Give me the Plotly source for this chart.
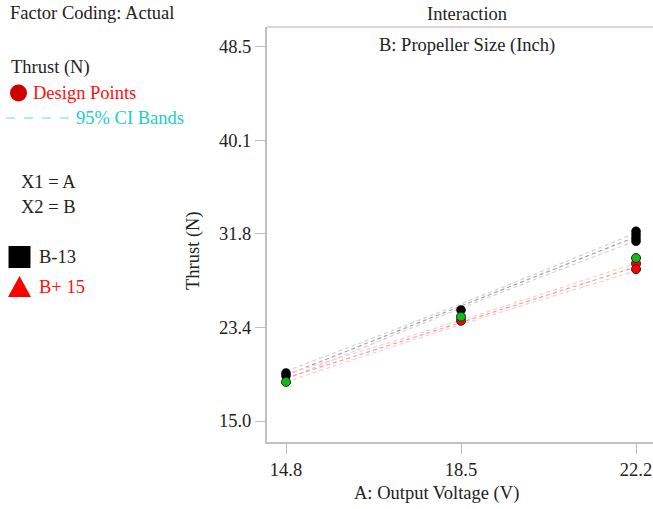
import plotly.graph_objects as go

# ---- data ----
voltage_levels = [14.8, 18.5, 22.2]
b_minus_mean = [19.1, 25.3, 31.5]
b_minus_lo = [18.75, 25.1, 31.15]
b_minus_hi = [19.45, 25.5, 31.85]
b_plus_mean = [18.85, 23.83, 28.8]
b_plus_lo = [18.5, 23.63, 28.45]
b_plus_hi = [19.2, 24.03, 29.15]

black_pts_x = [14.8, 14.8, 18.5, 22.2, 22.2, 22.2, 22.2]
black_pts_y = [19.3, 19.05, 24.94, 32.0, 31.7, 31.4, 31.1]
green_pts_x = [14.8, 18.5, 22.2]
green_pts_y = [18.5, 24.34, 29.6]
red_pts_x = [18.5, 22.2, 22.2]
red_pts_y = [23.98, 29.1, 28.6]

y_ticks = [15.0, 23.4, 31.8, 40.1, 48.5]
y_tick_vals = [15.0, 23.375, 31.75, 40.125, 48.5]
x_ticks = ["14.8", "18.5", "22.2"]

FONT = "Liberation Serif"
FS = 18.5
W, H = 653, 509
L, T, R, B = 267, 27, 653, 442

def px(x):
    return (x - L) / (R - L)

def py(y):
    return (B - y) / (B - T)

fig = go.Figure()

def line(xs, ys, color, width=1.2):
    fig.add_trace(go.Scatter(x=xs, y=ys, mode="lines",
                             line=dict(color=color, width=width, dash="4px,3px", shape="spline"),
                             hoverinfo="skip", showlegend=False))

line(voltage_levels, b_minus_lo, "#d2d2d2")
line(voltage_levels, b_minus_hi, "#d2d2d2")
line(voltage_levels, b_minus_mean, "#a6a6a6")
line(voltage_levels, b_plus_lo, "#ffcccc")
line(voltage_levels, b_plus_hi, "#ffcccc")
line(voltage_levels, b_plus_mean, "#ff9a9a")

fig.add_trace(go.Scatter(x=black_pts_x, y=black_pts_y, mode="markers",
                         marker=dict(color="#000000", size=9, line=dict(color="#000", width=0.5)), showlegend=False))
fig.add_trace(go.Scatter(x=red_pts_x, y=red_pts_y, mode="markers",
                         marker=dict(color="#ff0000", size=9, line=dict(color="#222", width=1)), showlegend=False))
fig.add_trace(go.Scatter(x=green_pts_x, y=green_pts_y, mode="markers",
                         marker=dict(color="#11bb11", size=9, line=dict(color="#222", width=1)), showlegend=False))

fig.update_xaxes(range=[14.398, 22.559], tickvals=voltage_levels, ticktext=x_ticks,
                 ticks="outside", ticklen=10, tickcolor="#bdbdbd", tickwidth=1,
                 showline=True, linecolor="#c0c0c0", linewidth=2, showgrid=False, zeroline=False,
                 tickfont=dict(family=FONT, size=FS, color="#222"))
fig.update_yaxes(range=[13.119, 50.29], tickvals=y_tick_vals, ticktext=[f"{v:.1f}" for v in y_ticks],
                 ticks="outside", ticklen=10, tickcolor="#bdbdbd", tickwidth=1,
                 showline=True, linecolor="#c0c0c0", linewidth=2, showgrid=False, zeroline=False,
                 tickfont=dict(family=FONT, size=FS, color="#222"))

ann = []
def text(x, y, s, color="#222", anchor="left", angle=0):
    ann.append(dict(x=px(x), y=py(y), xref="paper", yref="paper", text=s, showarrow=False,
                    xanchor=anchor, yanchor="middle", textangle=angle,
                    font=dict(family=FONT, size=FS, color=color)))

text(8, 13, "Factor Coding: Actual")
text(9, 67, "Thrust (N)")
text(31, 93, "Design Points", "#ff1010")
text(74, 118, "95% CI Bands", "#22cccc")
text(19, 182, "X1 = A")
text(19, 207, "X2 = B")
text(37, 257, "B-13")
text(37, 287, "B+ 15", "#ff1010")
text(467, 14, "Interaction", anchor="center")
text(467, 45, "B: Propeller Size (Inch)", anchor="center")
text(436, 493, "A: Output Voltage (V)", anchor="center")
text(193, 251, "Thrust (N)", anchor="center", angle=-90)

shapes = []
# top border line
shapes.append(dict(type="line", xref="paper", yref="paper", x0=0, x1=1, y0=1, y1=1,
                   line=dict(color="#d8d8d8", width=2)))
# legend marks
shapes.append(dict(type="circle", xref="paper", yref="paper", x0=px(10), x1=px(27), y0=py(101.5), y1=py(84.5),
                   fillcolor="#cc0000", line=dict(color="#cc0000", width=0)))
shapes.append(dict(type="line", xref="paper", yref="paper", x0=px(6), x1=px(69), y0=py(118), y1=py(118),
                   line=dict(color="#66dddd", width=1.2, dash="dash")))
shapes.append(dict(type="rect", xref="paper", yref="paper", x0=px(8.5), x1=px(30.5), y0=py(268), y1=py(246),
                   fillcolor="#000", line=dict(color="#000", width=0)))
tx0, tx1, ty0, ty1 = px(8), px(31), py(297), py(276)
shapes.append(dict(type="path", xref="paper", yref="paper",
                   path=f"M {tx0} {ty0} L {tx1} {ty0} L {(tx0+tx1)/2} {ty1} Z",
                   fillcolor="#ff0000", line=dict(color="#ff0000", width=0)))

fig.update_layout(width=W, height=H, margin=dict(l=L, r=W - R, t=T, b=H - B),
                  plot_bgcolor="white", paper_bgcolor="white", annotations=ann, shapes=shapes,
                  showlegend=False)

fig.write_html("out.html")
